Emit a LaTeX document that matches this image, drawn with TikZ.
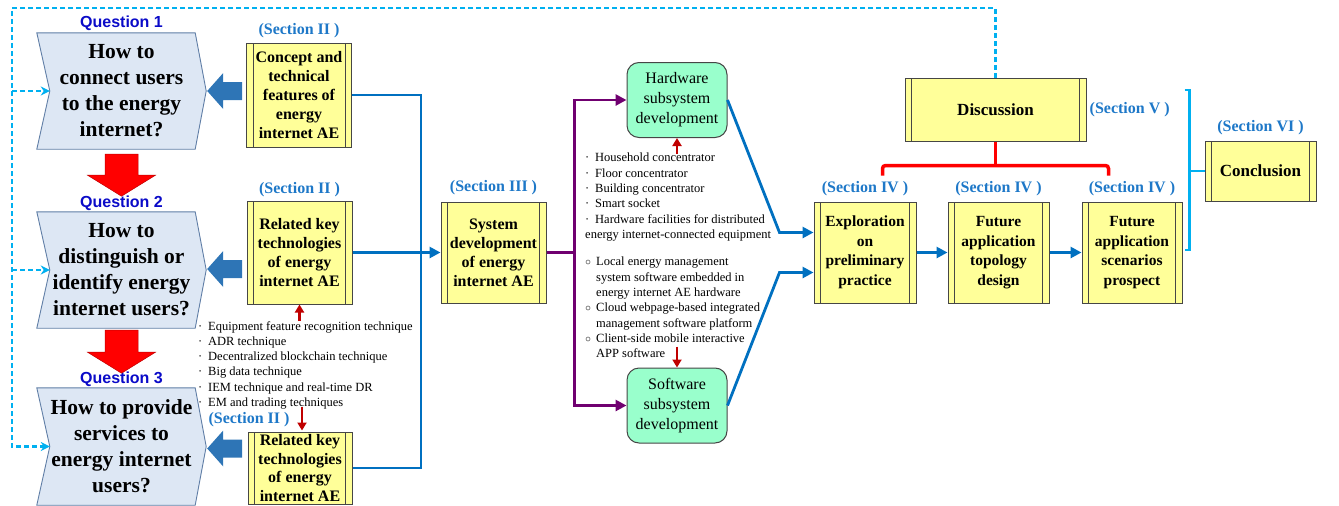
\documentclass[tikz,border=0pt]{standalone}
\usepackage{fontspec}
\setmainfont{Liberation Serif}
\newfontfamily\qfont{Liberation Sans}
\usetikzlibrary{positioning,calc,arrows.meta,backgrounds}
\definecolor{qfill}{RGB}{221,231,244}
\definecolor{qedge}{RGB}{96,126,166}
\definecolor{qblue}{RGB}{10,10,200}
\definecolor{boxfill}{RGB}{255,255,153}
\definecolor{boxedge}{RGB}{70,70,70}
\definecolor{subfill}{RGB}{153,255,204}
\definecolor{secblue}{RGB}{30,120,200}
\definecolor{lineblue}{RGB}{0,112,192}
\definecolor{blkblue}{RGB}{46,117,182}
\definecolor{purp}{RGB}{112,0,112}
\definecolor{darkred}{RGB}{192,0,0}
\definecolor{fbcyan}{RGB}{0,176,240}

\begin{document}
\begin{tikzpicture}[x=1pt,y=-1pt,
    qbox/.style={minimum width=169pt,minimum height=116pt,inner sep=0pt,align=center,font=\fontsize{21.5}{26}\selectfont\bfseries},
    qshape/.style={fill=qfill,draw=qedge,line width=0.9pt},
    qlabel/.style={inner sep=1pt,text=qblue,font=\qfont\fontsize{16}{18}\selectfont\bfseries},
    secbox/.style={draw=boxedge,fill=boxfill,line width=1pt,inner sep=0pt,align=center,font=\fontsize{16}{19}\selectfont\bfseries,
        path picture={\draw[boxedge,line width=0.9pt]
            ($(path picture bounding box.north west)+(6.5,0)$) -- ($(path picture bounding box.south west)+(6.5,0)$)
            ($(path picture bounding box.north east)+(-6.5,0)$) -- ($(path picture bounding box.south east)+(-6.5,0)$);}},
    subbox/.style={draw=boxedge,fill=subfill,line width=1pt,rounded corners=12pt,minimum width=100pt,minimum height=75pt,inner sep=0pt,align=center,font=\fontsize{16}{20}\selectfont},
    seclabel/.style={inner sep=1pt,text=secblue,font=\fontsize{16}{18}\selectfont\bfseries},
    listtxt/.style={inner sep=0pt,anchor=north west,align=left,font=\fontsize{12.5}{15.3}\selectfont},
    bline/.style={draw=lineblue,line width=2.8pt},
    barrow/.style={bline,-{Triangle[length=11pt,width=11pt]}},
    parrow/.style={draw=purp,line width=2.8pt,-{Triangle[length=11pt,width=11pt]}},
    redarr/.style={draw=darkred,line width=2.2pt,-{Triangle[length=8pt,width=9pt]}},
    fbarrow/.style={draw=fbcyan,line width=2.3pt,dash pattern=on 5pt off 3pt,-{Stealth[length=9pt,width=9pt]}},
    bigarrow/.style={fill=blkblue},
    downarrow/.style={fill=red,draw=darkred,line width=0.5pt},
    redbrk/.style={draw=red,line width=3.5pt,rounded corners=3pt},
    cbrk/.style={draw=fbcyan,line width=2.6pt}]
    \useasboundingbox (0,0) rectangle (1339,506);

    \node[qbox] (q1) at (121.5,91) {How to\\connect users\\to the energy\\internet?};
    \node[qbox] (q2) at (121.5,270) {How to\\distinguish or\\identify energy\\internet users?};
    \node[qbox,minimum height=117pt] (q3) at (121.5,446.5) {How to provide\\services to\\energy internet\\users?};
    \begin{scope}[on background layer]
        \draw[qshape] (q1.north west) -- ($(q1.north east)+(-11,0)$) -- (q1.east) -- ($(q1.south east)+(-11,0)$) -- (q1.south west) -- ($(q1.west)+(13,0)$) -- cycle;
        \draw[qshape] (q2.north west) -- ($(q2.north east)+(-11,0)$) -- (q2.east) -- ($(q2.south east)+(-11,0)$) -- (q2.south west) -- ($(q2.west)+(13,0)$) -- cycle;
        \draw[qshape] (q3.north west) -- ($(q3.north east)+(-11,0)$) -- (q3.east) -- ($(q3.south east)+(-11,0)$) -- (q3.south west) -- ($(q3.west)+(13,0)$) -- cycle;
    \end{scope}
    \node[qlabel,above=1pt of q1] (ql1) {Question 1};
    \node[qlabel,above=0pt of q2] (ql2) {Question 2};
    \node[qlabel,above=0pt of q3] (ql3) {Question 3};

    \node[secbox,minimum width=105pt,minimum height=104pt] (s1) at (299,95) {Concept and\\technical\\features of\\energy\\internet AE};
    \node[secbox,minimum width=105pt,minimum height=103pt] (s2) at (299.5,252.5) {Related key\\technologies\\of energy\\internet AE};
    \node[secbox,minimum width=104pt,minimum height=72pt,font=\fontsize{16}{18.5}\selectfont\bfseries] (s3) at (300,468) {Related key\\technologies\\of energy\\internet AE};
    \node[seclabel,above=3pt of s1] (l1) {(Section II )};
    \node[seclabel,above=2pt of s2] (l2) {(Section II )};
    \node[seclabel] (l3) at (249,420) {(Section II )};

    \node[listtxt] (t2list) at (198,321) {\makebox[10pt][l]{·}Equipment feature recognition technique\\
        \makebox[10pt][l]{·}ADR technique\\
        \makebox[10pt][l]{·}Decentralized blockchain technique\\
        \makebox[10pt][l]{·}Big data technique\\
        \makebox[10pt][l]{·}IEM technique and real-time DR\\
        \makebox[10pt][l]{·}EM and trading techniques};

    \node[secbox,minimum width=105pt,minimum height=101pt] (sec3) at (493.5,252.5) {System\\development\\of energy\\internet AE};
    \node[seclabel,above=5pt of sec3] (l4) {(Section III )};

    \node[subbox] (hw) at (677,100) {Hardware\\subsystem\\development};
    \node[subbox] (sw) at (677,405.5) {Software\\subsystem\\development};
    \node[listtxt] (hwlist) at (585,153) {\makebox[10pt][l]{·}Household concentrator\\
        \makebox[10pt][l]{·}Floor concentrator\\
        \makebox[10pt][l]{·}Building concentrator\\
        \makebox[10pt][l]{·}Smart socket\\
        \makebox[10pt][l]{·}Hardware facilities for distributed\\
        energy internet-connected equipment};
    \node[listtxt] (swlist) at (585,257) {\makebox[11pt][l]{\fontsize{10}{10}\selectfont ○}Local energy management\\
        \hspace*{11pt}system software embedded in\\
        \hspace*{11pt}energy internet AE hardware\\
        \makebox[11pt][l]{\fontsize{10}{10}\selectfont ○}Cloud webpage-based integrated\\
        \hspace*{11pt}management software platform\\
        \makebox[11pt][l]{\fontsize{10}{10}\selectfont ○}Client-side mobile interactive\\
        \hspace*{11pt}APP software};

    \node[secbox,minimum width=102pt,minimum height=101pt,font=\fontsize{15.5}{19.5}\selectfont\bfseries] (expl) at (865,252.5) {Exploration\\on\\preliminary\\practice};
    \node[secbox,minimum width=101pt,minimum height=101pt,font=\fontsize{15.5}{19.5}\selectfont\bfseries] (topo) at (998.5,252.5) {Future\\application\\topology\\design};
    \node[secbox,minimum width=100pt,minimum height=101pt,font=\fontsize{15.5}{19.5}\selectfont\bfseries] (scen) at (1132,252.5) {Future\\application\\scenarios\\prospect};
    \node[seclabel,above=4pt of expl] (l5) {(Section IV )};
    \node[seclabel,above=4pt of topo] (l6) {(Section IV )};
    \node[seclabel,above=4pt of scen] (l7) {(Section IV )};

    \node[secbox,minimum width=181pt,minimum height=63pt,font=\fontsize{17}{20}\selectfont\bfseries] (disc) at (995.5,109.5) {Discussion};
    \node[seclabel,right=2pt of disc] (l8) {(Section V )};
    \node[secbox,minimum width=111pt,minimum height=60pt,font=\fontsize{17}{20}\selectfont\bfseries] (concl) at (1260.5,171) {Conclusion};
    \node[seclabel,above=4pt of concl] (l9) {(Section VI )};

    \fill[bigarrow] ($(q1.east)+(1,0)$) -- ++(16,-18) -- ++(0,9) -- ++(19,0) -- ++(0,18) -- ++(-19,0) -- ++(0,9) -- cycle;
    \fill[bigarrow] ($(q2.east)+(1,-1)$) -- ++(16,-18) -- ++(0,9) -- ++(19,0) -- ++(0,18) -- ++(-19,0) -- ++(0,9) -- cycle;
    \fill[bigarrow] ($(q3.east)+(1,2)$) -- ++(16,-18) -- ++(0,9) -- ++(19,0) -- ++(0,18) -- ++(-19,0) -- ++(0,9) -- cycle;
    \filldraw[downarrow] ($(q1.south)+(-16.5,5)$) -- ++(33,0) -- ++(0,21) -- ++(17.5,0) -- ++(-34,21) -- ++(-34,-21) -- ++(17.5,0) -- cycle;
    \filldraw[downarrow] ($(q2.south)+(-16.5,2)$) -- ++(33,0) -- ++(0,22) -- ++(17.5,0) -- ++(-34,21) -- ++(-34,-21) -- ++(17.5,0) -- cycle;

    \draw[redarr] (s2.south |- t2list.north) -- (s2.south);
    \draw[redarr] ($(s3.north |- t2list.south)+(2,-2)$) -- ($(s3.north)+(2,-1)$);
    \draw[redarr] ($(hw.south |- hwlist.north)+(0,1)$) -- (hw.south);
    \draw[redarr] ($(sw.north)+(0,-21)$) -- (sw.north);

    \draw[bline] (s1.east) -- ++(69,0) |- (s3.east);
    \draw[barrow] (s2.east) -- (sec3.west);
    \draw[parrow] (sec3.east) -- ++(28,0) |- (hw.west);
    \draw[parrow] (sec3.east) -- ++(28,0) |- (sw.west);
    \draw[barrow] (hw.east) -- ($(expl.west)+(-34,-20)$) -- ($(expl.west)+(0,-20)$);
    \draw[barrow] (sw.east) -- ($(expl.west)+(-34,20)$) -- ($(expl.west)+(0,20)$);
    \draw[barrow] (expl.east) -- (topo.west);
    \draw[barrow] (topo.east) -- (scen.west);

    \draw[redbrk] (disc.south) -- ++(0,24);
    \draw[redbrk] ($(disc.south)+(-113,34)$) -- ++(0,-10) -- ++(226,0) -- ++(0,10);
    \draw[cbrk] ($(concl.west)+(-20,-81)$) -- ++(5,0) -- ++(0,160) -- ++(-5,0);
    \draw[cbrk] (concl.west) -- ++(-15,0);

    \coordinate (fb) at (12,8);
    \draw[fbarrow] (disc.north) |- (fb) |- ($(q3.west)+(13,0)$);
    \draw[fbarrow] (fb |- q1.west) -- ($(q1.west)+(13,0)$);
    \draw[fbarrow] (fb |- q2.west) -- ($(q2.west)+(13,0)$);
\end{tikzpicture}
\end{document}
